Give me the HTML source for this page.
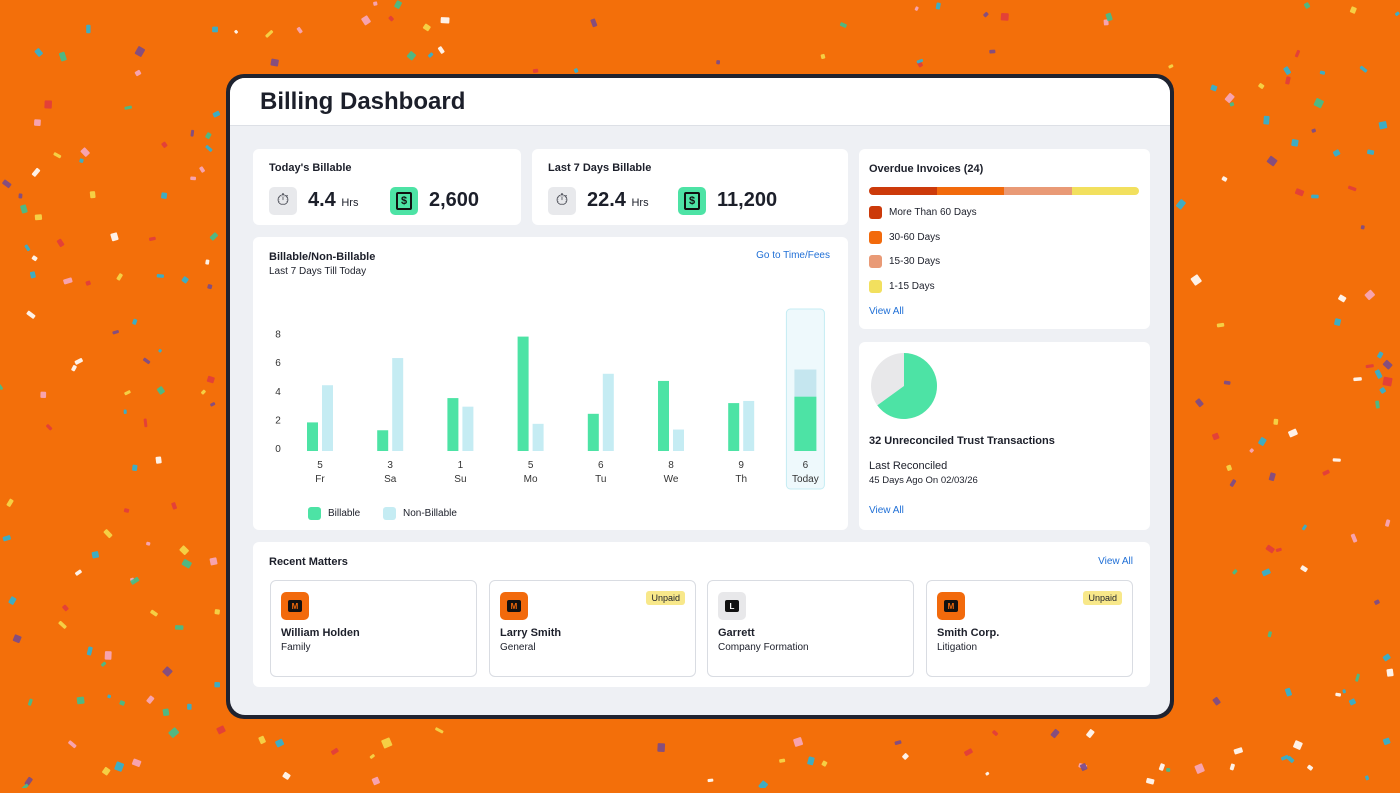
<!DOCTYPE html>
<html><head><meta charset="utf-8"><style>
*{box-sizing:border-box;margin:0;padding:0}
body{width:1400px;height:788px;overflow:hidden;background:#f36f0a;font-family:"Liberation Sans",sans-serif;color:#1c1f2a;position:relative}
.abs{position:absolute}
.frame{left:226px;top:74px;width:948px;height:645px;background:#1f2330;border-radius:18px}
.inner{left:230px;top:78px;width:940px;height:637px;background:#eef0f4;border-radius:15px;overflow:hidden}
.hdr{left:0;top:0;width:940px;height:48px;background:#fff;border-bottom:1px solid #dde0e6}
.card{background:#fff;border-radius:6px}
.t13{font-size:11px;font-weight:bold}
.link{color:#1f6fd6;font-size:10px}
.ic{width:28px;height:28px;border-radius:5px;display:flex;align-items:center;justify-content:center}
.big{font-size:20px;font-weight:bold}
.sw{width:13px;height:13px;border-radius:3px}
.mc{border:1px solid #d9dce2;border-radius:6px;background:#fff}
.mi{left:10px;top:11px;width:28px;height:28px;border-radius:5px;background:#f26a0c;display:flex;align-items:center;justify-content:center}
.mi span{width:14px;height:12px;background:#111;border-radius:2px;color:#f26a0c;font-size:8px;font-weight:bold;text-align:center;line-height:13px}
.badge{right:10px;top:10px;background:#f8e88a;font-size:9px;padding:2px 5px;border-radius:3px}
.dol{width:16px;height:18px;border:2px solid #111;border-radius:2px;font-size:11px;font-weight:bold;text-align:center;line-height:14px;color:#111}
</style></head><body>
<div class="abs" style="inset:0">
<svg width="1400" height="788" id="conf"></svg></div>
<div class="abs frame"></div>
<div class="abs inner">
 <div class="abs hdr"><div class="abs" style="left:30px;top:10px;font-size:24px;font-weight:bold">Billing Dashboard</div></div>

 <div class="abs card" style="left:23px;top:71px;width:268px;height:76px">
  <div class="abs t13" style="left:16px;top:13px">Today's Billable</div>
  <div class="abs ic" style="left:16px;top:38px;background:#e8e9ec">⏱</div>
  <div class="abs big" style="left:55px;top:40px">4.4 <span style="font-size:11px;font-weight:normal">Hrs</span></div>
  <div class="abs ic" style="left:137px;top:38px;background:#4de3a5"><div class="dol">$</div></div>
  <div class="abs big" style="left:176px;top:40px">2,600</div>
 </div>
 <div class="abs card" style="left:302px;top:71px;width:316px;height:76px">
  <div class="abs t13" style="left:16px;top:13px">Last 7 Days Billable</div>
  <div class="abs ic" style="left:16px;top:38px;background:#e8e9ec">⏱</div>
  <div class="abs big" style="left:55px;top:40px">22.4 <span style="font-size:11px;font-weight:normal">Hrs</span></div>
  <div class="abs ic" style="left:146px;top:38px;background:#4de3a5"><div class="dol">$</div></div>
  <div class="abs big" style="left:185px;top:40px">11,200</div>
 </div>

 <div class="abs card" style="left:23px;top:159px;width:595px;height:293px">
  <div class="abs t13" style="left:16px;top:14px">Billable/Non-Billable</div>
  <div class="abs" style="left:16px;top:29px;font-size:10px">Last 7 Days Till Today</div>
  <div class="abs link" style="right:18px;top:13px">Go to Time/Fees</div>
  <svg class="abs" style="left:0;top:0" width="595" height="293" id="chart"></svg>
  <div class="abs sw" style="left:55px;top:270px;background:#4de3a5"></div>
  <div class="abs" style="left:75px;top:271px;font-size:10px">Billable</div>
  <div class="abs sw" style="left:130px;top:270px;background:#c5ecf3"></div>
  <div class="abs" style="left:150px;top:271px;font-size:10px">Non-Billable</div>
 </div>

 <div class="abs card" style="left:629px;top:71px;width:291px;height:180px">
  <div class="abs t13" style="left:10px;top:14px">Overdue Invoices (24)</div>
  <div class="abs" style="left:10px;top:38px;width:270px;height:8px;border-radius:4px;overflow:hidden;display:flex">
   <div style="flex:1;background:#cc3a0a"></div><div style="flex:1;background:#f26a0c"></div><div style="flex:1;background:#e99a76"></div><div style="flex:1;background:#f2e05e"></div></div>
  <div class="abs sw" style="left:10px;top:57px;background:#cc3a0a"></div><div class="abs" style="left:30px;top:58px;font-size:10px">More Than 60 Days</div>
  <div class="abs sw" style="left:10px;top:82px;background:#f26a0c"></div><div class="abs" style="left:30px;top:83px;font-size:10px">30-60 Days</div>
  <div class="abs sw" style="left:10px;top:106px;background:#e99a76"></div><div class="abs" style="left:30px;top:107px;font-size:10px">15-30 Days</div>
  <div class="abs sw" style="left:10px;top:131px;background:#f2e05e"></div><div class="abs" style="left:30px;top:132px;font-size:10px">1-15 Days</div>
  <div class="abs link" style="left:10px;top:157px">View All</div>
 </div>

 <div class="abs card" style="left:629px;top:264px;width:291px;height:188px">
  <svg class="abs" style="left:11px;top:10px" width="68" height="68">
   <circle cx="34" cy="34" r="33" fill="#e8e8ea"/>
   <path id="pieslice" fill="#4de3a5"/>
  </svg>
  <div class="abs t13" style="left:10px;top:93px">32 Unreconciled Trust Transactions</div>
  <div class="abs" style="left:10px;top:118px;font-size:11px">Last Reconciled</div>
  <div class="abs" style="left:10px;top:133px;font-size:9.5px">45 Days Ago On 02/03/26</div>
  <div class="abs link" style="left:10px;top:163px">View All</div>
 </div>

 <div class="abs card" style="left:23px;top:464px;width:897px;height:145px">
  <div class="abs t13" style="left:16px;top:14px">Recent Matters</div>
  <div class="abs link" style="right:17px;top:14px">View All</div>
  <div class="abs mc" style="left:17px;top:38px;width:207px;height:97px">
   <div class="abs mi"><span>M</span></div>
   <div class="abs t13" style="left:10px;top:46px">William Holden</div><div class="abs" style="left:10px;top:61px;font-size:10px">Family</div></div>
  <div class="abs mc" style="left:236px;top:38px;width:207px;height:97px">
   <div class="abs mi"><span>M</span></div><div class="abs badge">Unpaid</div>
   <div class="abs t13" style="left:10px;top:46px">Larry Smith</div><div class="abs" style="left:10px;top:61px;font-size:10px">General</div></div>
  <div class="abs mc" style="left:454px;top:38px;width:207px;height:97px">
   <div class="abs mi" style="background:#e8e8ea"><span style="color:#fff">L</span></div>
   <div class="abs t13" style="left:10px;top:46px">Garrett</div><div class="abs" style="left:10px;top:61px;font-size:10px">Company Formation</div></div>
  <div class="abs mc" style="left:673px;top:38px;width:207px;height:97px">
   <div class="abs mi"><span>M</span></div><div class="abs badge">Unpaid</div>
   <div class="abs t13" style="left:10px;top:46px">Smith Corp.</div><div class="abs" style="left:10px;top:61px;font-size:10px">Litigation</div></div>
 </div>
</div>
<script>
const categories=["Fr","Sa","Su","Mo","Tu","We","Th","Today"];
const counts=["5","3","1","5","6","8","9","6"];
const billable=[2.0,1.45,3.7,8.0,2.6,4.9,3.35,3.8];
const nonBillable=[4.6,6.5,3.1,1.9,5.4,1.5,3.5,1.9];
const yTicks=[0,2,4,6,8];
const trustShare=0.65;
const NS="http://www.w3.org/2000/svg";
const svg=document.getElementById('chart');
const base=214, ppu=14.3;
const y=v=>base-v*ppu;
const xc=i=>67+i*70.2;
function mk(t,a,p){const e=document.createElementNS(NS,t);for(const k in a)e.setAttribute(k,a[k]);(p||svg).appendChild(e);return e;}
yTicks.forEach(t=>{const e=mk('text',{x:25,y:y(t)+1,'font-size':10,fill:'#333','text-anchor':'middle','font-family':'Liberation Sans'});e.textContent=t;

});
categories.forEach((c,i)=>{
 const today=i===categories.length-1;
 const cx=today?xc(i)-6:xc(i);
 if(today){const h=mk('rect',{x:cx-19,y:72,width:38,height:180,rx:4,fill:'#eef9fc',stroke:'#c5ecf3'});
 
 
  const a=mk('rect',{x:cx-11,y:y(billable[i]+nonBillable[i]),width:22,height:nonBillable[i]*ppu,fill:'#c5e6ef'});
  
  
  const b=mk('rect',{x:cx-11,y:y(billable[i]),width:22,height:billable[i]*ppu,fill:'#4de3a5'});
  
  
 }else{
  const b=mk('rect',{x:cx-13,y:y(billable[i]),width:11,height:billable[i]*ppu,fill:'#4de3a5'});
  
  
  const a=mk('rect',{x:cx+2,y:y(nonBillable[i]),width:11,height:nonBillable[i]*ppu,fill:'#c5ecf3'});
  
  
 }
 const n=mk('text',{x:cx,y:231,'font-size':10,fill:'#333','text-anchor':'middle','font-family':'Liberation Sans'});n.textContent=counts[i];
 
 
 const l=mk('text',{x:cx,y:245,'font-size':10,fill:'#333','text-anchor':'middle','font-family':'Liberation Sans'});l.textContent=c;
 
 
});
const ang=trustShare*2*Math.PI, r=33;
const ex=34+r*Math.sin(ang), ey=34-r*Math.cos(ang);
document.getElementById('pieslice').setAttribute('d',`M34 34 L34 1 A33 33 0 ${trustShare>0.5?1:0} 1 ${ex} ${ey} Z`);
// confetti
const conf=document.getElementById('conf');
const cols=['#ffffff','#2bb3d6','#f5d94a','#e13c3c','#7a4a8a','#3fbf8f','#f7a8c0','#2bb3d6'];
let s=7;const rnd=()=>{s=(s*9301+49297)%233280;return s/233280;};
for(let k=0;k<500;k++){const px=rnd()*1400,py=rnd()*788;
 if(px>220&&px<1180&&py>70&&py<722)continue;
 const e=mk('rect',{x:px,y:py,width:3+rnd()*6,height:3+rnd()*6,rx:1,fill:cols[k%cols.length],opacity:0.9,transform:`rotate(${rnd()*90} ${px} ${py})`},conf);
 
 }
</script>
</body></html>
